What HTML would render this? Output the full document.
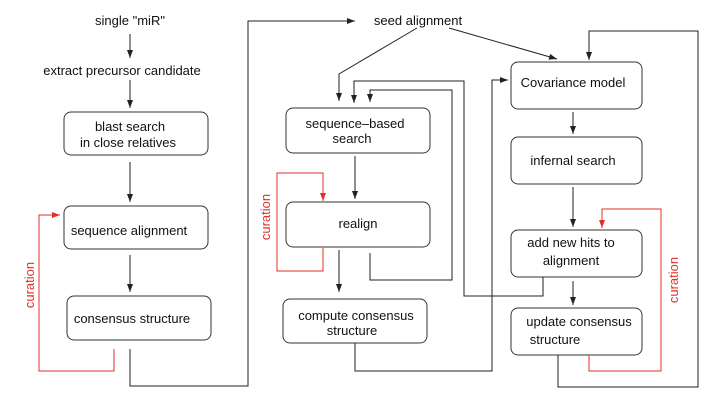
<!DOCTYPE html>
<html><head><style>body{margin:0;background:#fff}svg{display:block}text{font-family:"Liberation Sans",sans-serif;font-size:13px;fill:#111}</style></head>
<body>
<svg width="714" height="400" viewBox="0 0 714 400" xmlns="http://www.w3.org/2000/svg">
<defs>
<marker id="a" markerWidth="8" markerHeight="6" refX="8" refY="3" orient="auto" markerUnits="userSpaceOnUse"><path d="M0,0 L8,3 L0,6z" fill="#222"/></marker>
<marker id="r" markerWidth="8" markerHeight="6" refX="8" refY="3" orient="auto" markerUnits="userSpaceOnUse"><path d="M0,0 L8,3 L0,6z" fill="#e0302a"/></marker>
</defs>
<g fill="none" stroke="#333" stroke-width="1">
<rect x="64" y="112" width="144" height="43" rx="7"/>
<rect x="64" y="206" width="144" height="43" rx="7"/>
<rect x="67" y="296" width="144" height="44" rx="7"/>
<rect x="286" y="108" width="144" height="45" rx="7"/>
<rect x="286" y="202" width="144" height="45" rx="7"/>
<rect x="283" y="299" width="144" height="44" rx="7"/>
<rect x="511" y="62" width="131" height="47" rx="7"/>
<rect x="511" y="137" width="131" height="47" rx="7"/>
<rect x="511" y="230" width="131" height="47" rx="7"/>
<rect x="511" y="308" width="131" height="47" rx="7"/>
</g>
<g fill="none" stroke="#222" stroke-width="1" marker-end="url(#a)">
<path d="M130 34V58"/><path d="M130 80V108"/><path d="M130 162V202"/><path d="M130 255V292"/>
<path d="M130 349V386H248V21H355"/>
<path d="M417 28L339 74V101"/><path d="M449 28L557 59"/>
<path d="M543 277V296H464V81H354V103"/>
<path d="M370 253V280H452V90H370V102"/>
<path d="M355 156V199"/><path d="M339 250V292"/>
<path d="M355 343V371H492V80H508"/>
<path d="M573 112V134"/><path d="M573 187V227"/><path d="M573 281V305"/>
<path d="M558 355V387H698V31H589V60"/>
</g>
<g fill="none" stroke="#e0302a" stroke-width="1" marker-end="url(#r)">
<path d="M114 349V371H39V215H60"/>
<path d="M323 248V271H277V173H323V201"/>
<path d="M589 355V371H661V209H602V228"/>
</g>
<g text-anchor="middle">
<text x="130" y="25">single "miR"</text>
<text x="122" y="75">extract precursor candidate</text>
<text x="130" y="131">blast search</text>
<text x="128" y="147">in close relatives</text>
<text x="129" y="235">sequence alignment</text>
<text x="132" y="323">consensus structure</text>
<text x="418" y="25">seed alignment</text>
<text x="355" y="128">sequence–based</text>
<text x="352" y="143">search</text>
<text x="358" y="228">realign</text>
<text x="356" y="320">compute consensus</text>
<text x="352" y="335">structure</text>
<text x="573" y="87">Covariance model</text>
<text x="573" y="165">infernal search</text>
<text x="571" y="247">add new hits to</text>
<text x="571" y="265">alignment</text>
<text x="579" y="326">update consensus</text>
<text x="555" y="344">structure</text>
</g>
<g text-anchor="middle">
<text transform="translate(34,285) rotate(-90)" style="fill:#e0302a">curation</text>
<text transform="translate(270,217) rotate(-90)" style="fill:#e0302a">curation</text>
<text transform="translate(678,280) rotate(-90)" style="fill:#e0302a">curation</text>
</g>
</svg>
</body></html>
